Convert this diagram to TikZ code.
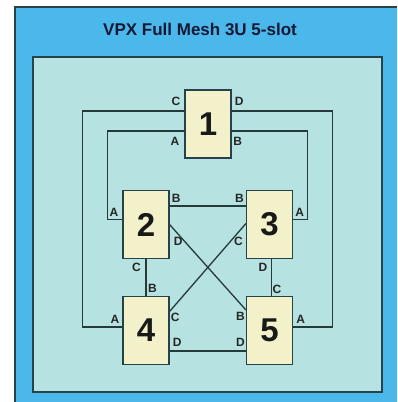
\documentclass[tikz,border=0pt]{standalone}
\usepackage{fontspec}
\setmainfont{Liberation Sans}
\usetikzlibrary{positioning,calc,backgrounds}

\definecolor{chassis}{RGB}{74,184,234}
\definecolor{backplane}{RGB}{182,226,226}
\definecolor{slotfill}{RGB}{242,241,202}
\definecolor{wire}{RGB}{38,58,58}
\definecolor{rim}{RGB}{40,66,76}
\definecolor{titleink}{RGB}{22,24,52}

\begin{document}
\begin{tikzpicture}[
  x=1pt, y=-1pt,
  slot/.style={draw=rim, line width=1.1pt, fill=slotfill, minimum width=46pt, minimum height=68pt,
               inner sep=0pt, font=\bfseries\fontsize{33}{33}\selectfont, text=black!90},
  link/.style={draw=wire, line width=1.3pt},
  port/.style={font=\bfseries\fontsize{12}{12}\selectfont, inner sep=0pt, text=black!85},
  heading/.style={font=\bfseries\fontsize{17}{17}\selectfont, text=titleink},
]
\useasboundingbox (0,0) rectangle (397,402);

% ---- chassis, title and backplane -------------------------------------------
\fill[chassis] (15,7) rectangle (397,402);
\draw[rim, line width=1.2pt] (15,402) -- (15,7) -- (397,7);
\node[heading] (title) at (200,29) {VPX Full Mesh 3U 5-slot};
\node[draw=rim, line width=1.5pt, fill=backplane, minimum width=349pt, minimum height=335pt,
      inner sep=0pt, anchor=north west] (bp) at (32,56) {};

% ---- the five slots -----------------------------------------------------------
\node[slot] (s1) at (208,124)     {1};
\node[slot] (s2) at (146,224.5)   {2};
\node[slot] (s3) at (269.5,224.5) {3};
\node[slot] (s4) at (146,330.5)   {4};
\node[slot] (s5) at (269.5,330.5) {5};

% ---- ports ----------------------------------------------------------------------
\coordinate (s1c) at ($(s1.west)+(0,-13)$);
\coordinate (s1a) at ($(s1.west)+(0,7)$);
\coordinate (s1d) at ($(s1.east)+(0,-13)$);
\coordinate (s1b) at ($(s1.east)+(0,7)$);
\coordinate (s2a) at ($(s2.west)+(0,-5)$);
\coordinate (s2b) at ($(s2.east)+(0,-18.5)$);
\coordinate (s2d) at (s2.east);
\coordinate (s3a) at ($(s3.east)+(0,-5)$);
\coordinate (s3b) at ($(s3.west)+(0,-18.5)$);
\coordinate (s3c) at ($(s3.west)+(0,-1)$);
\coordinate (s3d) at ($(s3.south)+(2,0)$);
\coordinate (s4a) at ($(s4.west)+(0,-3.5)$);
\coordinate (s4c) at ($(s4.east)+(0,-19)$);
\coordinate (s4d) at ($(s4.east)+(0,20.5)$);
\coordinate (s5a) at ($(s5.east)+(0,-3.5)$);
\coordinate (s5b) at ($(s5.west)+(0,-20.5)$);
\coordinate (s5c) at ($(s5.north)+(2,0)$);
\coordinate (s5d) at ($(s5.west)+(0,20.5)$);

% ---- mesh wiring ------------------------------------------------------------------
\draw[link] (s1c) -- ++(-102,0) |- (s4a);
\draw[link] (s1d) -- ++(101,0) |- (s5a);
\draw[link] (s1a) -- ++(-77,0) |- (s2a);
\draw[link] (s1b) -- ++(76,0) |- (s3a);
\draw[link] (s2b) -- (s3b);
\draw[link] (s2d) -- (s5b);
\draw[link] (s3c) -- (s4c);
\draw[link] (s2.south) -- (s4.north);
\draw[link] (s3d) -- (s5c);
\draw[link] (s4d) -- (s5d);

% ---- port letters -------------------------------------------------------------------
\node[port, above left=5pt and 4pt of s1c]    (l1c) {C};
\node[port, below left=6pt and 5pt of s1a]    (l1a) {A};
\node[port, above right=5pt and 3pt of s1d]   (l1d) {D};
\node[port, below right=6pt and 1.5pt of s1b] (l1b) {B};
\node[port, above left=2.5pt and 4pt of s2a]  (l2a) {A};
\node[port, above right=3pt and 2pt of s2b]   (l2b) {B};
\node[port, below right=13pt and 4pt of s2d]  (l2d) {D};
\node[port, below left=4pt and 5pt of s2.south] (l2c) {C};
\node[port, above left=3pt and 2pt of s3b]    (l3b) {B};
\node[port, above right=2.5pt and 2pt of s3a] (l3a) {A};
\node[port, below left=13pt and 3pt of s3c]   (l3c) {C};
\node[port, below left=4pt and 4pt of s3d]    (l3d) {D};
\node[port, above right=3pt and 2pt of s4.north] (l4b) {B};
\node[port, above left=3pt and 3pt of s4a]    (l4a) {A};
\node[port, below right=1.5pt and 1pt of s4c] (l4c) {C};
\node[port, above right=4pt and 3pt of s4d]   (l4d) {D};
\node[port, above right=2pt and 1pt of s5c]   (l5c) {C};
\node[port, below left=2pt and 1pt of s5b]    (l5b) {B};
\node[port, above left=4pt and 1pt of s5d]    (l5d) {D};
\node[port, above right=3pt and 3pt of s5a]   (l5a) {A};

\end{tikzpicture}
\end{document}
